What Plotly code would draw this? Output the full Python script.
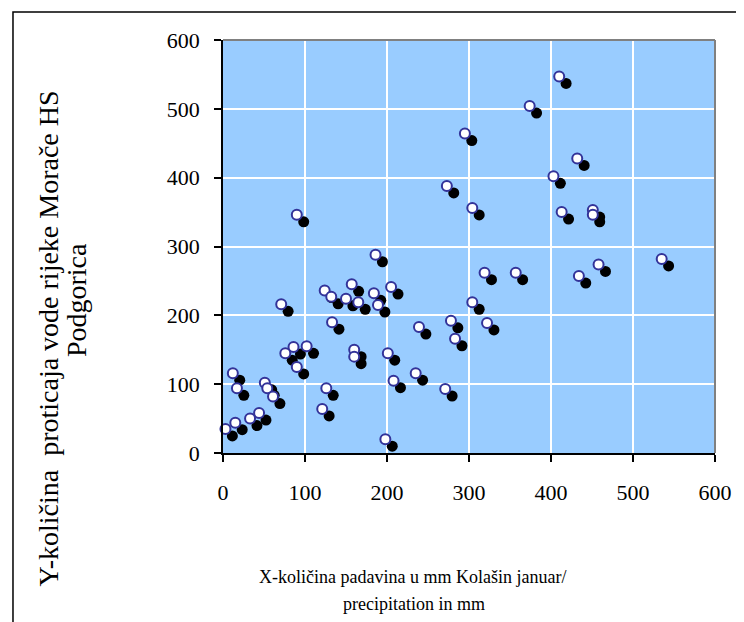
import plotly.graph_objects as go

# Data: x = precipitation (mm) Kolašin January, y = Morača discharge HS Podgorica
precip_mm = [186, 124, 132, 157, 150, 165, 184, 189, 71, 133,
             86, 102, 76, 90, 160, 160, 12, 17, 51, 54,
             61, 126, 121, 44, 33, 15, 3, 90, 205, 239,
             278, 283, 304, 322, 319, 357, 201, 208, 235, 271,
             198, 432, 403, 413, 451, 451, 458, 434, 535, 410,
             374, 295, 273, 304]
discharge = [288, 236, 227, 245, 224, 219, 232, 215, 216, 190,
             154, 155, 145, 125, 150, 140, 116, 94, 102, 94,
             82, 94, 64, 58, 50, 44, 35, 346, 241, 183,
             192, 166, 219, 189, 262, 262, 145, 105, 116, 93,
             20, 428, 402, 350, 353, 346, 274, 257, 282, 547,
             504, 464, 388, 356]

x_ticks = [0, 100, 200, 300, 400, 500, 600]
y_ticks = [0, 100, 200, 300, 400, 500, 600]

x_title_1 = "X-količina padavina u mm Kolašin januar/"
x_title_2 = "precipitation in mm"
y_title_1 = "Y-količina  proticaja vode rijeke Morače HS"
y_title_2 = "Podgorica"

# Geometry: page pixels; the page body has an 8px default margin
OFF = 8
W, H = 744 - OFF, 622 - OFF
PLOT_X0, PLOT_X1 = 223, 722      # page px
PLOT_Y0, PLOT_Y1 = 40, 453       # page px (top, bottom)
L = PLOT_X0 - OFF
T = PLOT_Y0 - OFF
pw = PLOT_X1 - PLOT_X0
ph = PLOT_Y1 - PLOT_Y0
R = W - L - pw
B = H - T - ph
SHADOW_PX = 7
dx = SHADOW_PX * 600 / pw
dy = SHADOW_PX * 600 / ph


def px_to_paper_x(px):
    return (px - PLOT_X0) / pw


def px_to_paper_y(py):
    return (PLOT_Y1 - py) / ph


FONT = "Liberation Serif, Times New Roman, serif"

fig = go.Figure()

# Shadow (on shifted hidden axes)
fig.add_trace(go.Scatter(
    x=precip_mm, y=discharge, mode="markers",
    marker=dict(size=11, color="black", line=dict(width=0)),
    xaxis="x", yaxis="y", hoverinfo="skip", showlegend=False,
    cliponaxis=False,
))
# Main markers (on visible axes)
fig.add_trace(go.Scatter(
    x=precip_mm, y=discharge, mode="markers",
    marker=dict(size=10, color="white", line=dict(width=2, color="#333399")),
    xaxis="x2", yaxis="y2", showlegend=False, cliponaxis=False,
))

fig.update_layout(
    width=W, height=H,
    margin=dict(l=L, r=R, t=T, b=B),
    paper_bgcolor="white",
    plot_bgcolor="#99CCFF",
    font=dict(family=FONT, color="black"),
    showlegend=False,
    xaxis=dict(range=[-dx, 600 - dx], visible=False, showgrid=False, zeroline=False),
    yaxis=dict(range=[dy, 600 + dy], visible=False, showgrid=False, zeroline=False),
    xaxis2=dict(
        overlaying="x", anchor="y2", side="bottom", range=[0, 600],
        tickvals=x_ticks, ticktext=[str(v) for v in x_ticks],
        ticks="outside", ticklen=7, tickwidth=1.5, tickcolor="black",
        showline=True, linecolor="black", linewidth=1.5,
        showgrid=True, gridcolor="white", gridwidth=1.5, zeroline=False,
        tickfont=dict(family=FONT, size=22, color="black"),
        ticklabelstandoff=12,
    ),
    yaxis2=dict(
        overlaying="y", anchor="x2", side="left", range=[0, 600],
        tickvals=y_ticks, ticktext=[str(v) for v in y_ticks],
        ticks="outside", ticklen=7, tickwidth=1.5, tickcolor="black",
        showline=True, linecolor="black", linewidth=1.5,
        showgrid=True, gridcolor="white", gridwidth=1.5, zeroline=False,
        tickfont=dict(family=FONT, size=22, color="black"),
        ticklabelstandoff=10,
    ),
    shapes=[
        # gray top and right plot-area border
        dict(type="line", xref="paper", yref="paper", x0=0, x1=1, y0=1, y1=1,
             line=dict(color="#808080", width=2), layer="above"),
        dict(type="line", xref="paper", yref="paper", x0=1, x1=1, y0=0, y1=1,
             line=dict(color="#808080", width=2), layer="above"),
        # outer chart frame
        dict(type="rect", xref="paper", yref="paper",
             x0=px_to_paper_x(10), x1=px_to_paper_x(770),
             y0=px_to_paper_y(650), y1=px_to_paper_y(12),
             line=dict(color="black", width=1.5), fillcolor="rgba(0,0,0,0)",
             layer="below"),
    ],
    annotations=[
        dict(text=x_title_1, xref="paper", yref="paper",
             x=px_to_paper_x(415), y=px_to_paper_y(577),
             xanchor="center", yanchor="middle", showarrow=False,
             font=dict(family=FONT, size=18, color="black")),
        dict(text=x_title_2, xref="paper", yref="paper",
             x=px_to_paper_x(417), y=px_to_paper_y(604),
             xanchor="center", yanchor="middle", showarrow=False,
             font=dict(family=FONT, size=18, color="black")),
        dict(text=y_title_1, xref="paper", yref="paper",
             x=px_to_paper_x(46), y=px_to_paper_y(338),
             xanchor="center", yanchor="middle", showarrow=False, textangle=-90,
             font=dict(family=FONT, size=28, color="black")),
        dict(text=y_title_2, xref="paper", yref="paper",
             x=px_to_paper_x(74), y=px_to_paper_y(300),
             xanchor="center", yanchor="middle", showarrow=False, textangle=-90,
             font=dict(family=FONT, size=28, color="black")),
    ],
)

fig.write_html("out.html")
